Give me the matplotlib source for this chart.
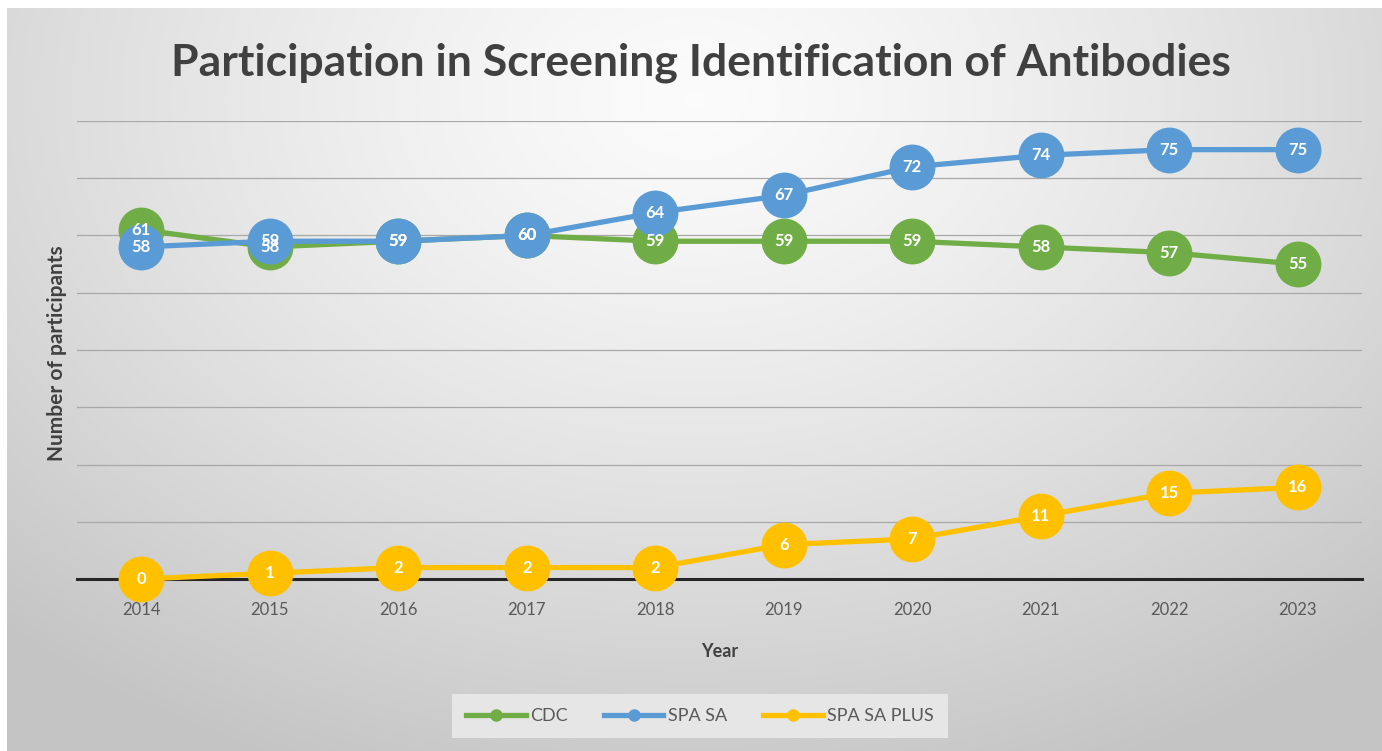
import numpy as np
import matplotlib
matplotlib.use("Agg")
import matplotlib.pyplot as plt
from matplotlib.lines import Line2D

years = ["2014", "2015", "2016", "2017", "2018", "2019", "2020", "2021", "2022", "2023"]
cdc = [61, 58, 59, 60, 59, 59, 59, 58, 57, 55]
spa_sa = [58, 59, 59, 60, 64, 67, 72, 74, 75, 75]
spa_sa_plus = [0, 1, 2, 2, 2, 6, 7, 11, 15, 16]

series = [("CDC", cdc, "#70AD47"), ("SPA SA", spa_sa, "#5B9BD5"), ("SPA SA PLUS", spa_sa_plus, "#FFC000")]

plt.rcParams['font.family'] = ['Lato', 'DejaVu Sans']

W, H = 1382, 751
fig = plt.figure(figsize=(W / 100, H / 100), dpi=100)
fig.patch.set_facecolor("white")

# gradient background
bg = fig.add_axes([7 / W, 0, 1 - 7 / W, 1 - 8 / H])
bg.set_axis_off()
yy, xx = np.mgrid[0:1:300j, 0:1:600j]
d = np.sqrt(((xx - 0.5) / 0.75) ** 2 + ((yy - 0.12) / 1.0) ** 2)
val = 0.985 - 0.22 * np.clip(d, 0, 1.2) ** 1.3
val = np.clip(val, 0.77, 0.99)
bg.imshow(np.dstack([val, val, val]), extent=[0, 1, 0, 1], origin="upper", aspect="auto")
bg.set_xlim(0, 1)
bg.set_ylim(0, 1)

ax = fig.add_axes([77 / W, 1 - 579 / H, (1362 - 77) / W, (579 - 121) / H])
ax.patch.set_alpha(0)
x = np.arange(len(years))
ax.set_xlim(-0.5, len(years) - 0.5)
ax.set_ylim(0, 80)
ax.set_yticks(np.arange(0, 81, 10))
ax.yaxis.grid(True, color="#a8a8a8", linewidth=0.9)
ax.set_axisbelow(True)
ax.tick_params(axis="y", left=False, labelleft=False)
ax.tick_params(axis="x", bottom=False, labelsize=12, labelcolor="#595959", pad=13)
for s in ["top", "right", "left"]:
    ax.spines[s].set_visible(False)
ax.spines["bottom"].set_color("#262626")
ax.spines["bottom"].set_linewidth(2.2)
ax.spines["bottom"].set_zorder(2)
ax.set_xticks(x)
ax.set_xticklabels(years)

for name, vals, col in series:
    ax.plot(x, vals, color=col, linewidth=3.8, marker="o", markersize=32,
            markeredgecolor=col, zorder=3, clip_on=False)
    for xi, v in zip(x, vals):
        ax.text(xi, v, str(v), color="white", fontsize=12, fontweight="bold",
                ha="center", va="center", zorder=4)

ax.set_xlabel("Year", fontsize=13, fontweight="bold", color="#404040", labelpad=18)
fig.text(57 / W, 1 - 353 / H, "Number of participants", rotation=90, fontsize=15,
         fontweight="bold", color="#404040", ha="center", va="center")

fig.text(0.5 * (168 + 1233) / W, 1 - 63 / H, "Participation in Screening Identification of Antibodies",
         fontsize=32, fontweight="bold", color="#404040", ha="center", va="center")

handles = [Line2D([0], [0], color=c, linewidth=3.8, marker="o", markersize=8) for _, _, c in series]
leg = fig.legend(handles, [n for n, _, _ in series], loc="center", bbox_to_anchor=(700 / W, 1 - 716 / H),
                 ncol=3, frameon=True, fontsize=13, handlelength=3.3, columnspacing=2.0,
                 handletextpad=0.25, borderpad=0.75)
leg.get_frame().set_facecolor("#e6e6e6")
leg.get_frame().set_edgecolor("none")
leg.get_frame().set_alpha(1)
leg.get_frame().set_boxstyle("square", pad=0)
for t in leg.get_texts():
    t.set_color("#595959")

fig.savefig("out.png", dpi=100)
